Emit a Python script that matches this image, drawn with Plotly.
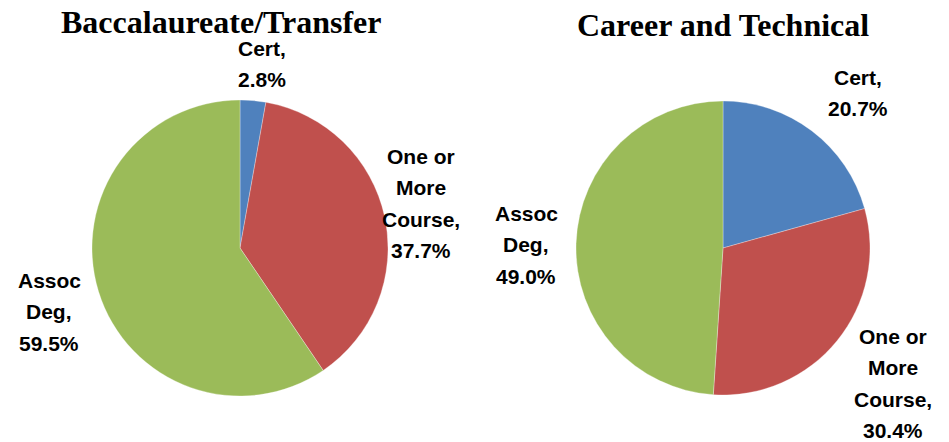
import plotly.graph_objects as go

categories = ["Cert", "One or More Course", "Assoc Deg"]
label_lines = [["Cert,"], ["One or", "More", "Course,"], ["Assoc", "Deg,"]]
bacc_values = [2.8, 37.7, 59.5]
career_values = [20.7, 30.4, 49.0]
titles = ["Baccalaureate/Transfer", "Career and Technical"]
colors = ["#4F81BD", "#C0504D", "#9BBB59"]

W, H = 949, 442

def px_x(x):
    return x / W

def px_y(y):
    return 1 - y / H

fig = go.Figure()

domains = [
    dict(x=[px_x(92), px_x(388)], y=[px_y(396), px_y(100)]),
    dict(x=[px_x(576), px_x(870)], y=[px_y(396), px_y(100)]),
]

for vals, dom in zip([bacc_values, career_values], domains):
    fig.add_trace(go.Pie(
        labels=categories, values=vals, sort=False, direction="clockwise",
        rotation=0, textinfo="none", hoverinfo="label+percent",
        marker=dict(colors=colors, line=dict(color="rgba(255,255,255,0.6)", width=0.5)),
        domain=dom, showlegend=False,
    ))

# title annotations
title_pos = [(221, 22), (723, 25)]
for t, (x, y) in zip(titles, title_pos):
    fig.add_annotation(text="<b>%s</b>" % t, x=px_x(x), y=px_y(y), xref="paper", yref="paper",
                       showarrow=False, xanchor="center", yanchor="middle",
                       font=dict(family="Liberation Serif", size=32, color="black"))

# label positions (first-line centre, px) for each pie & category
label_pos = [
    [(262, 48), (421, 156), (49, 280)],
    [(858, 77), (893, 336), (526, 213)],
]
spacing = 31.5
for vals, poss in zip([bacc_values, career_values], label_pos):
    for i, (x, y) in enumerate(poss):
        lines = label_lines[i] + ["%.1f%%" % vals[i]]
        for j, ln in enumerate(lines):
            fig.add_annotation(text="<b>%s</b>" % ln, x=px_x(x), y=px_y(y + j * spacing),
                               xref="paper", yref="paper", showarrow=False,
                               xanchor="center", yanchor="middle",
                               font=dict(family="Liberation Sans", size=21, color="black"))

fig.update_layout(width=W, height=H, margin=dict(l=0, r=0, t=0, b=0),
                  paper_bgcolor="white", plot_bgcolor="white")

fig.write_html("out.html", config={"displayModeBar": False},
               post_script="document.body.style.margin='0';document.body.style.overflow='hidden';")
